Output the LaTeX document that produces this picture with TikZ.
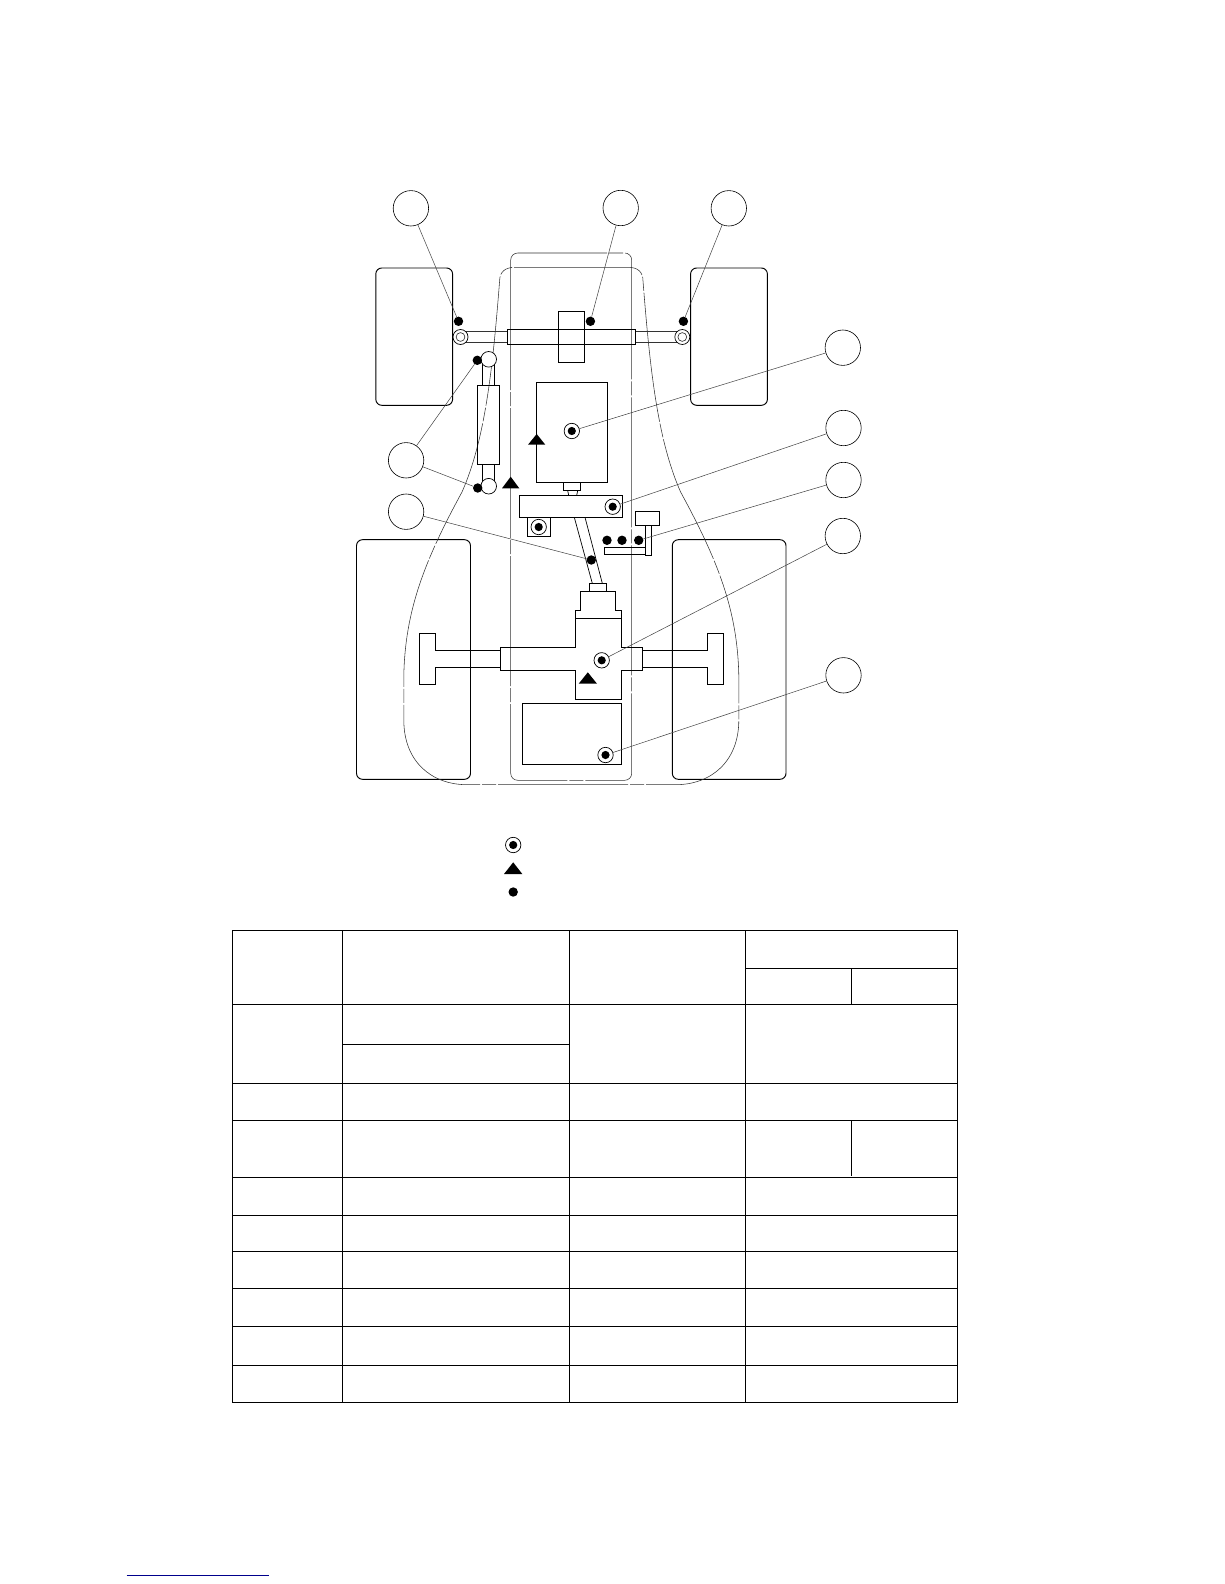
\documentclass[tikz,border=0pt]{standalone}
\tikzset{
  ln/.style={black,line width=0.95pt},
  thin ln/.style={black,line width=0.7pt},
  rodline/.style={black!80,line width=0.6pt},
  lead/.style={black!75,line width=0.5pt},
  outl/.style={black!80,line width=0.55pt,dash pattern=on 130pt off 2pt on 14pt off 2pt},
  callout/.style={circle,draw=black,line width=0.6pt,fill=white,minimum size=35.4pt,inner sep=0pt},
  ptdot/.style={circle,fill=black,minimum size=9.4pt,inner sep=0pt},
  tgt/.style={circle,draw=black,line width=0.7pt,fill=white,minimum size=15.4pt,inner sep=0pt,
    path picture={\fill[black] (path picture bounding box.center) circle (4.1pt);}},
  balljoint/.style={circle,draw=black,line width=0.7pt,fill=white,minimum size=15.6pt,inner sep=0pt},
  rodend/.style={circle,draw=black,line width=0.7pt,fill=white,minimum size=15pt,inner sep=0pt,
    path picture={\draw[black!85,line width=0.6pt] (path picture bounding box.center) circle (4.4pt);}},
  tri/.style={fill=black},
  tbl/.style={black,line width=1pt}
}
\begin{document}
\begin{tikzpicture}[x=1pt,y=-1pt]
\useasboundingbox (0,0) rectangle (1224,1584);
% wheels
\draw[ln,rounded corners=6pt] (375.8,268) rectangle (452.6,405.3);
\draw[ln,rounded corners=6pt] (690.6,268) rectangle (767.4,405.3);
\draw[ln,rounded corners=6pt] (356.5,539.7) rectangle (470.5,779.3);
\draw[ln,rounded corners=6pt] (672.3,539.7) rectangle (786,779.3);
% frame
\draw[outl,rounded corners=7pt] (510.7,253) rectangle (631.7,780.3);
% body
\draw[outl] (515,267.3) -- (628,267.3) .. controls (638,267.3) and (643,272) .. (643,281)
  .. controls (650,370) and (657.6,440) .. (680.6,492)
  .. controls (717.6,560) and (737.6,610) .. (738.8,676)
  -- (738.8,720) .. controls (738.8,762) and (710.6,784.7) .. (675.6,784.7)
  -- (467,784.7) .. controls (432,784.7) and (403.8,762) .. (403.8,720)
  -- (403.8,676) .. controls (405,610) and (425,560) .. (462,492)
  .. controls (485,440) and (492.6,370) .. (499.6,281)
  .. controls (499.6,272) and (505,267.3) .. (515,267.3);
% front axle
\draw[ln] (507,329.3) rectangle (635.8,344.3);
\draw[rodline] (465,331.7) -- (507,331.7) (465,342) -- (507,342);
\draw[rodline] (635.8,331.7) -- (678,331.7) (635.8,342) -- (678,342);
\node[rodend] (rodL) at (460.5,337) {};
\node[rodend] (rodR) at (682.3,337) {};
\draw[ln] (558.3,311.3) rectangle (584.5,362.7);
% steering cylinder
\draw[thin ln] (482,362) -- (482,385.3) (494.3,362) -- (494.3,385.3);
\draw[thin ln] (482,464.3) -- (482,484) (494.3,464.3) -- (494.3,484);
\draw[ln] (477.7,385.3) rectangle (499.3,464.3);
\node[balljoint] (ballU) at (488.7,359.3) {};
\node[balljoint] (ballD) at (488.7,486.2) {};
% engine
\draw[ln] (536.5,382) rectangle (607.3,482.3);
\draw[thin ln] (563,482.3) rectangle (580,490.7);
\draw[thin ln] (567.7,490.7) -- (568.7,495.3) (577.7,490.7) -- (576.7,495.3);
\draw[ln] (519.7,495.3) rectangle (622.7,517.3);
\draw[thin ln] (527,517.3) rectangle (550.3,536.7);
% propeller shaft
\draw[thin ln] (574.3,517.3) -- (592.3,583.3) (585,517.3) -- (602.3,583.3);
% pedal
\draw[thin ln] (635.7,511.7) rectangle (659.3,525.3);
\draw[thin ln] (645.7,525.3) rectangle (651.7,555.3);
\draw[thin ln] (604.7,547.7) rectangle (645.7,554.3);
% rear axle
\draw[thin ln] (589.7,583.3) rectangle (606.3,591.3);
\draw[ln] (500.5,647.3) -- (575.6,647.3) -- (575.6,610) -- (580.7,610) -- (580.7,591.3)
  -- (615.7,591.3) -- (615.7,610) -- (621,610) -- (621,647.3) -- (642.4,647.3)
  -- (642.4,670.3) -- (621,670.3) -- (621,699) -- (575.6,699) -- (575.6,670.3)
  -- (500.5,670.3) -- cycle;
\draw[thin ln] (575.6,618.3) -- (621,618.3);
\draw[ln] (500.5,650.3) -- (435.7,650.3) -- (435.7,633.3) -- (419.2,633.3) -- (419.2,684.3)
  -- (435.7,684.3) -- (435.7,667.3) -- (500.5,667.3);
\draw[ln] (642.4,650.3) -- (707.5,650.3) -- (707.5,633.3) -- (723.7,633.3) -- (723.7,684.3)
  -- (707.5,684.3) -- (707.5,667.3) -- (642.4,667.3);
% battery
\draw[ln] (522.2,703.3) rectangle (621.7,764.7);
% triangles
\fill[tri] (510.7,476.7) -- (519.3,488.3) -- (502,488.3) -- cycle;
\fill[tri] (536.7,434) -- (545.3,444.7) -- (528,444.7) -- cycle;
\fill[tri] (587.8,672.3) -- (597,683.7) -- (578.7,683.7) -- cycle;
% points
\node[tgt] (tEng) at (571.8,431) {};
\node[tgt] (tBar) at (612.7,506.7) {};
\node[tgt] (tLow) at (538.7,527) {};
\node[tgt] (tDif) at (601.7,660.3) {};
\node[tgt] (tBat) at (605.5,755) {};
\node[ptdot] (dA) at (458.5,321.3) {};
\node[ptdot] (dB) at (590.4,321.3) {};
\node[ptdot] (dC) at (683.4,321.3) {};
\node[ptdot] (dD) at (477.3,360.3) {};
\node[ptdot] (dE) at (477.7,488) {};
\node[ptdot] (dF) at (591.3,560) {};
\node[ptdot] (dG) at (607,540.3) {};
\node[ptdot] (dH) at (622,540.3) {};
\node[ptdot] (dI) at (638.7,540.3) {};
% callouts
\node[callout] (c1) at (410.9,208.3) {};
\node[callout] (c2) at (620.7,208) {};
\node[callout] (c3) at (728.8,208.3) {};
\node[callout] (c4) at (842.8,347.7) {};
\node[callout] (c5) at (843.5,428) {};
\node[callout] (c6) at (843.5,480) {};
\node[callout] (c7) at (842.8,536) {};
\node[callout] (c8) at (843.5,675.3) {};
\node[callout] (c9) at (406.1,460.3) {};
\node[callout] (c10) at (406.1,511.7) {};
% leaders
\draw[lead] (c1) -- (dA);
\draw[lead] (c2) -- (dB);
\draw[lead] (c3) -- (dC);
\draw[lead] (c4) -- (tEng);
\draw[lead] (c5) -- (tBar);
\draw[lead] (c6) -- (dI);
\draw[lead] (c7) -- (tDif);
\draw[lead] (c8) -- (tBat);
\draw[lead] (c9) -- (dD);
\draw[lead] (c9) -- (dE);
\draw[lead] (c10) -- (dF);
% legend
\node[tgt] (legA) at (513.2,845) {};
\fill[tri] (513.2,862.3) -- (522.3,874) -- (504,874) -- cycle;
\node[ptdot] (legC) at (513.2,892) {};
% table
\draw[tbl] (232.3,930.3) rectangle (957.3,1402.3);
\draw[tbl] (342.3,930.3) -- (342.3,1402.3);
\draw[tbl] (569.7,930.3) -- (569.7,1402.3);
\draw[tbl] (745.4,930.3) -- (745.4,1402.3);
\draw[tbl] (745.4,968.3) -- (957.3,968.3);
\draw[tbl] (851.5,968.3) -- (851.5,1004.3);
\draw[tbl] (232.3,1004.3) -- (957.3,1004.3);
\draw[tbl] (342.3,1044.3) -- (569.7,1044.3);
\draw[tbl] (232.3,1083.3) -- (957.3,1083.3);
\draw[tbl] (232.3,1120.3) -- (957.3,1120.3);
\draw[tbl] (851.5,1120.3) -- (851.5,1175.7);
\draw[tbl] (232.3,1177.3) -- (957.3,1177.3);
\draw[tbl] (232.3,1215.3) -- (957.3,1215.3);
\draw[tbl] (232.3,1251.3) -- (957.3,1251.3);
\draw[tbl] (232.3,1288.3) -- (957.3,1288.3);
\draw[tbl] (232.3,1326.3) -- (957.3,1326.3);
\draw[tbl] (232.3,1365.3) -- (957.3,1365.3);
% footer rule
\draw[color={rgb,255:red,0;green,0;blue,140},line width=1pt] (126.7,1575) -- (269,1575);
\end{tikzpicture}
\end{document}
